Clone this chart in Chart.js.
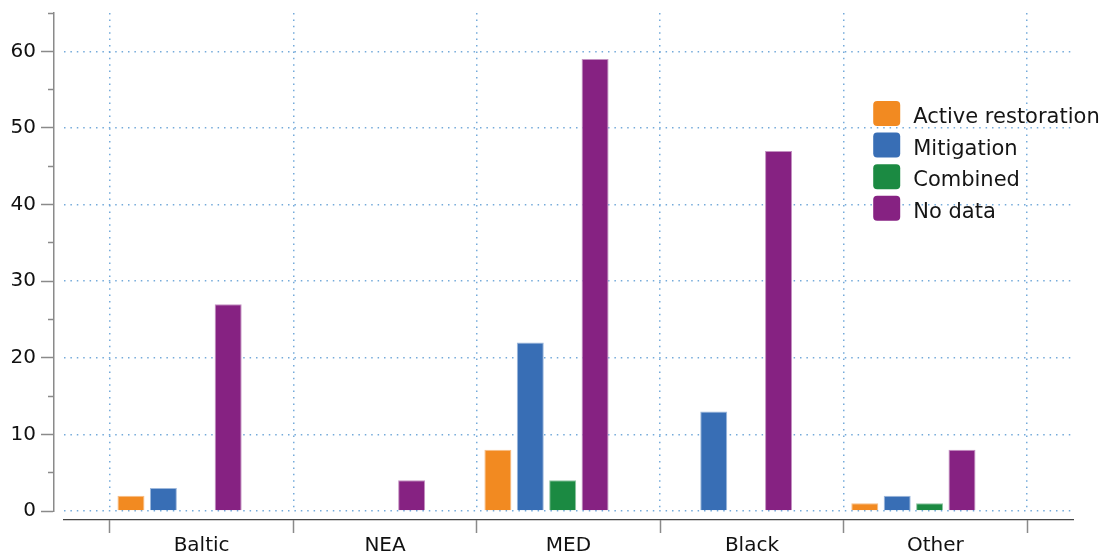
<!DOCTYPE html>
<html><head><meta charset="utf-8">
<script src="https://cdn.jsdelivr.net/npm/chart.js@4"></script>
<style>html,body{margin:0;padding:0;background:#fff}#wrap{width:1102px;height:555px}</style>
</head><body><div id="wrap"><canvas id="c" width="1102" height="555"></canvas></div>
<script>
const categories = ['Baltic', 'NEA', 'MED', 'Black', 'Other'];
const seriesNames = ['Active restoration', 'Mitigation', 'Combined', 'No data'];
const activeRestoration = [2, 0, 8, 0, 1];
const mitigation = [3, 0, 22, 13, 2];
const combined = [0, 0, 4, 0, 1];
const noData = [27, 4, 59, 47, 8];
const seriesColors = ['#F28A21', '#386EB5', '#1B8A42', '#862282'];
const seriesBorders = ['#F7BD85', '#9DB8DC', '#8DC5A1', '#C391C1'];

const seriesValues = [activeRestoration, mitigation, combined, noData];
const groupShift = 0.12;
const gridColor = '#74AADA';
const gridDash = [1.5, 4.9];
const FONT = 'DejaVu Sans';
Chart.defaults.font.family = FONT;

const datasets = seriesValues.map((vals, s) => ({
  label: seriesNames[s],
  data: categories.map((c, i) => ({ x: i, y: vals[i] })),
  backgroundColor: seriesColors[s],
  borderColor: seriesBorders[s],
  borderWidth: 1,
  xAxisID: 'xb',
  yAxisID: 'y',
  categoryPercentage: 0.7065,
  barPercentage: 0.8333
}));

const insetLegend = {
  id: 'insetLegend',
  afterDatasetsDraw(chart) {
    const { ctx, chartArea: a } = chart;
    const x0 = a.left + a.width * 0.802;
    const y0 = a.top + a.height * 0.1767;
    const pitch = 31.6;
    ctx.save();
    ctx.font = '21px "' + FONT + '"';
    ctx.textBaseline = 'alphabetic';
    chart.data.datasets.forEach((ds, i) => {
      const y = y0 + i * pitch;
      ctx.beginPath();
      ctx.roundRect(x0, y, 27, 25, 4);
      ctx.fillStyle = ds.backgroundColor;
      ctx.fill();
      ctx.fillStyle = '#151515';
      ctx.fillText(ds.label, x0 + 40, y + 22);
    });
    ctx.restore();
  }
};

const halfTicks = () => {
  const t = [];
  for (let i = 0; i <= categories.length; i++) t.push({ value: i - 0.5 });
  return t;
};
const allTicks = () => {
  const t = [];
  for (let i = 0; i <= categories.length; i++) {
    t.push({ value: i - 0.5 });
    if (i < categories.length) t.push({ value: i });
  }
  return t;
};

new Chart(document.getElementById('c'), {
  type: 'bar',
  data: { datasets },
  plugins: [insetLegend],
  options: {
    responsive: false,
    animation: false,
    devicePixelRatio: 1,
    layout: { padding: { top: 13, right: 29, left: 0, bottom: 0 } },
    plugins: { legend: { display: false }, tooltip: { enabled: false } },
    scales: {
      x: {
        type: 'linear', position: 'bottom', weight: 0, offset: false,
        min: -0.75, max: 4.75,
        afterBuildTicks: s => { s.ticks = halfTicks(); },
        ticks: { display: false },
        border: { display: false, dash: gridDash },
        grid: { offset: false, drawTicks: false, color: gridColor, lineWidth: 1.5 },
        afterFit: s => { s.height = 9; s.paddingLeft = 0; s.paddingRight = 0; }
      },
      xb: {
        type: 'linear', display: false, offset: false,
        grid: { offset: false },
        min: -0.75 + groupShift, max: 4.75 + groupShift,
        afterBuildTicks: s => { s.ticks = categories.map((c, i) => ({ value: i })); }
      },
      xAxis: {
        type: 'linear', position: 'bottom', weight: 1, offset: false,
        min: -0.75, max: 4.75,
        afterBuildTicks: s => { s.ticks = allTicks(); },
        ticks: {
          autoSkip: false, maxRotation: 0, minRotation: 0, padding: 1,
          color: '#111', font: { size: 20 },
          callback: v => Number.isInteger(v) ? categories[v] : ''
        },
        grid: {
          offset: false, drawOnChartArea: false, tickLength: 13, tickWidth: 1.5,
          tickColor: ctx => (ctx.tick && Number.isInteger(ctx.tick.value)) ? 'rgba(0,0,0,0)' : '#8a8a8a'
        },
        border: { color: '#444', width: 1.2 },
        afterFit: s => { s.height = 35; s.paddingLeft = 0; s.paddingRight = 0; }
      },
      y: {
        position: 'left', weight: 0, min: 0, max: 65,
        ticks: { display: false, stepSize: 10, includeBounds: false },
        border: { display: false, dash: gridDash },
        grid: { drawTicks: false, color: gridColor, lineWidth: 1.5 },
        afterFit: s => { s.width = 10; s.paddingTop = 0; s.paddingBottom = 0; }
      },
      yAxis: {
        position: 'left', weight: 1, min: 0, max: 65,
        ticks: {
          stepSize: 5, autoSkip: false, padding: 5,
          color: '#111', font: { size: 20 },
          callback: v => (v % 10 === 0) ? String(v) : ''
        },
        grid: {
          drawOnChartArea: false, tickLength: 13, tickWidth: 1.5, tickColor: '#8a8a8a',
          tickBorderDash: ctx => (ctx.tick && ctx.tick.value % 10 !== 0) ? [0, 7, 6, 30] : []
        },
        border: { color: '#8a8a8a', width: 1.5 },
        afterFit: s => { s.width = 54; s.paddingTop = 0; s.paddingBottom = 0; }
      }
    }
  }
});
</script>
</body></html>
